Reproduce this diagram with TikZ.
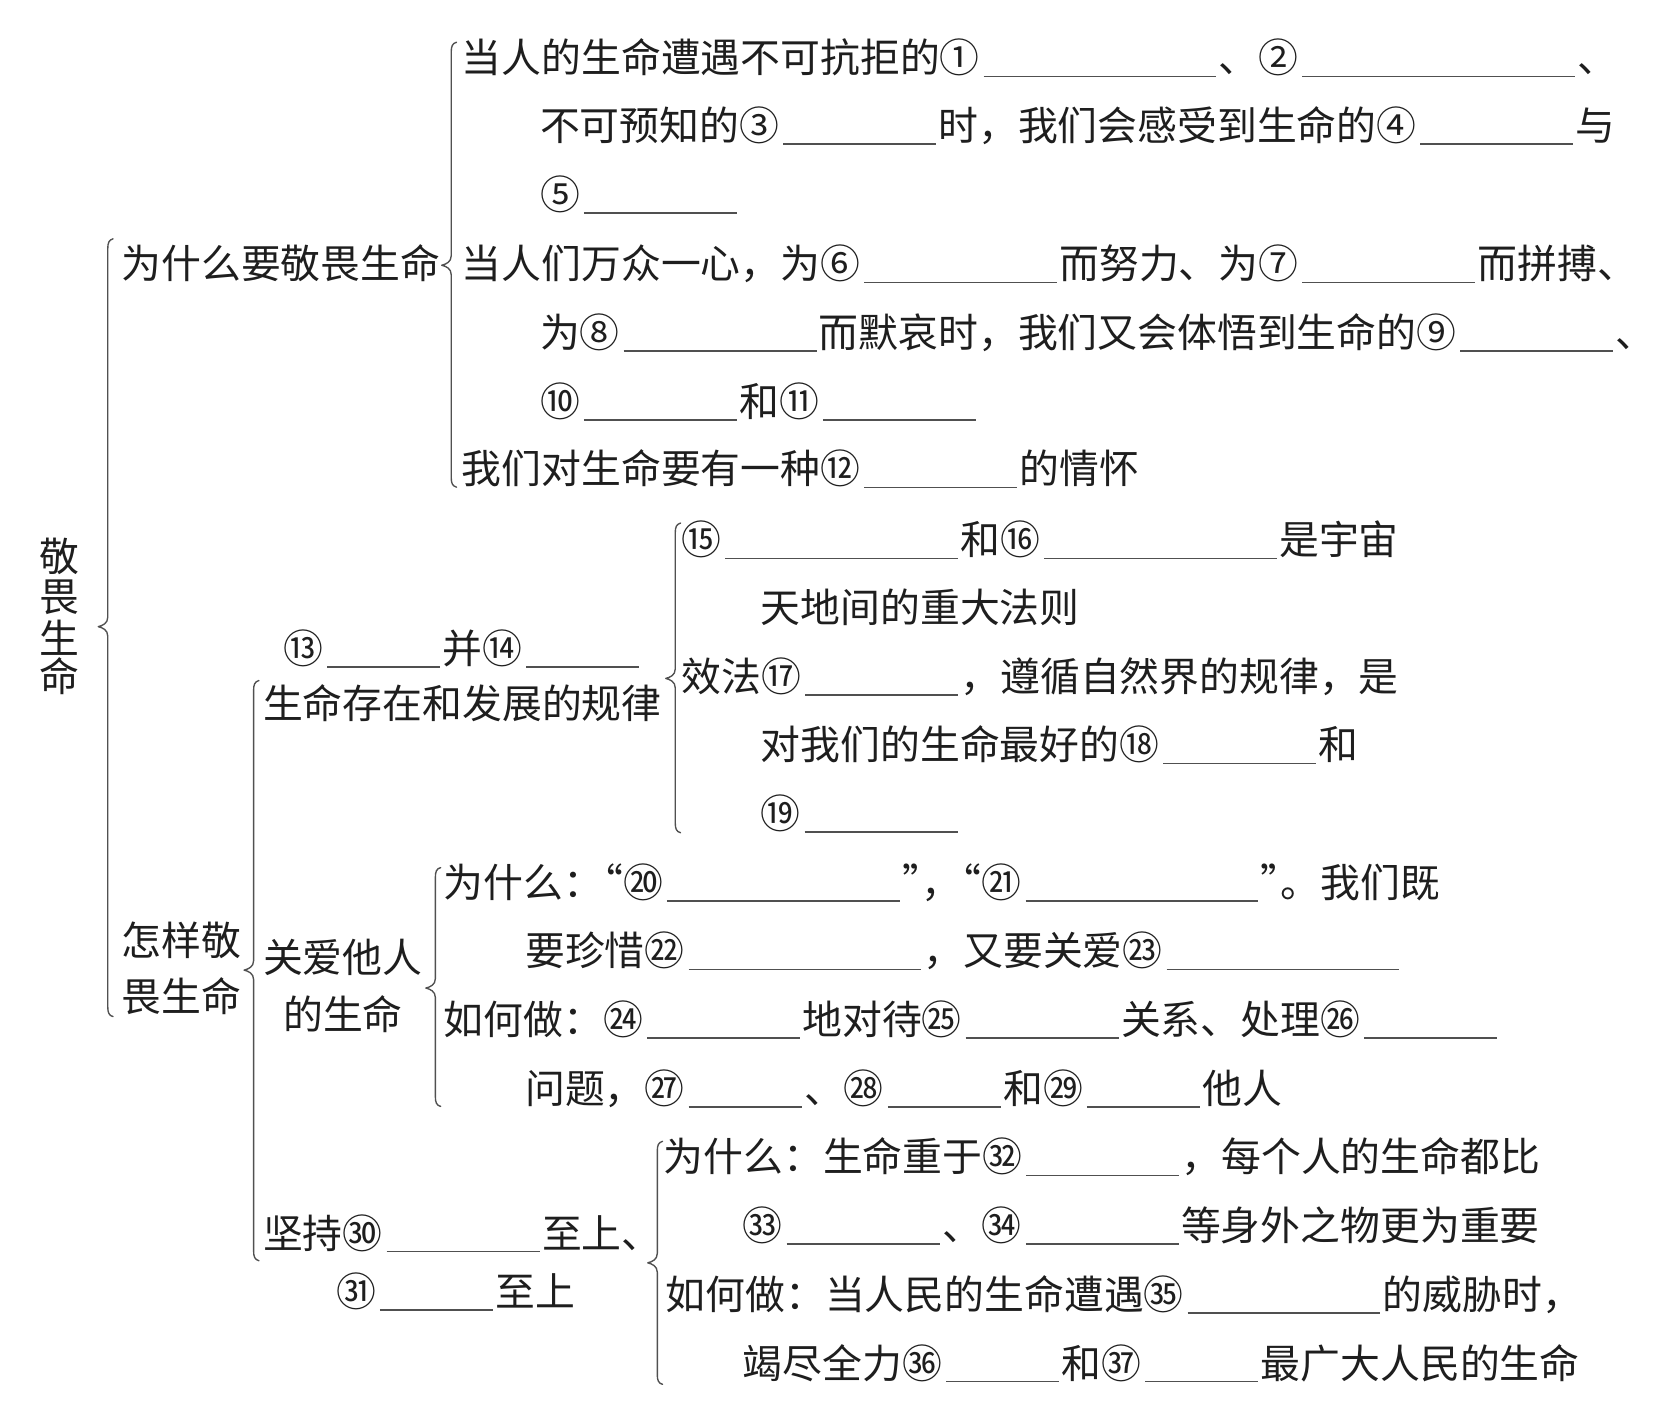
\documentclass[tikz,border=0pt]{standalone}
\usepackage{fontspec}
\setmainfont{Noto Sans CJK SC}
\definecolor{ink}{HTML}{1E1E1E}
\definecolor{brcol}{HTML}{505050}
\newcommand{\bl}[1]{\hspace{0.1em}{\color{brcol}\rule[-0.11em]{\dimexpr#1em-0.16em\relax}{0.75pt}}\hspace{0.06em}}
\newcommand{\oq}{\makebox[0.5em][r]{“}}
\newcommand{\cq}{\makebox[0.5em][l]{”}}
\newcommand{\brc}[4]{%
  \draw[brcline] ({#1+5},{-#2}) .. controls ({#1+1},{-#2-1}) and ({#1},{-#2-4}) .. ({#1},{-#2-9})
    -- ({#1},{-#3+9}) .. controls ({#1},{-#3+3}) and ({#1-5},{-#3+1}) .. ({#1-9},{-#3})
    .. controls ({#1-5},{-#3-1}) and ({#1},{-#3-3}) .. ({#1},{-#3-9})
    -- ({#1},{-#4+9}) .. controls ({#1},{-#4+4}) and ({#1+1},{-#4+1}) .. ({#1+5},{-#4});}
\tikzset{
  txt/.style={anchor=base west, inner sep=0pt, outer sep=0pt, text=ink,
    font=\fontsize{18.85}{22}\selectfont},
  vch/.style={txt, anchor=base},
  brcline/.style={draw=brcol, line width=0.65pt, line cap=round, line join=round}
}
\begin{document}
\begin{tikzpicture}[x=0.5pt,y=0.5pt]
\fill[white] (0,0) rectangle (1568,-1347);
\useasboundingbox (0,0) rectangle (1568,-1347);

% root
\node[vch] (r1) at (56,-541) {敬};
\node[vch] (r2) at (56,-579) {畏};
\node[vch] (r3) at (56,-618) {生};
\node[vch] (r4) at (56,-654) {命};
\brc{102}{226}{593}{962}

% why
\node[txt] (why) at (115,-264) {为什么要敬畏生命};
\brc{427}{40}{251}{461}
\node[txt] (a1) at (437,-69) {当人的生命遭遇不可抗拒的①\bl{6}、②\bl{7}、};
\node[txt] (a2) at (511,-133) {不可预知的③\bl{4}时，我们会感受到生命的④\bl{4}与};
\node[txt] (a3) at (511,-198) {⑤\bl{4}};
\node[txt] (a4) at (437,-264) {当人们万众一心，为⑥\bl{5}而努力、为⑦\bl{4.5}而拼搏、};
\node[txt] (a5) at (511,-329) {为⑧\bl{5}而默哀时，我们又会体悟到生命的⑨\bl{4}、};
\node[txt] (a6) at (511,-394) {⑩\bl{4}和⑪\bl{4}};
\node[txt] (a7) at (437,-458) {我们对生命要有一种⑫\bl{4}的情怀};

% how
\node[txt] (how1) at (115,-904) {怎样敬};
\node[txt] (how2) at (115,-957) {畏生命};
\brc{240}{644}{918}{1193}

% law
\node[txt] (law0) at (268,-628) {⑬\bl{3}并⑭\bl{3}};
\node[txt] (law) at (249,-680) {生命存在和发展的规律};
\brc{639}{495}{642}{788}
\node[txt] (b1) at (645,-525) {⑮\bl{6}和⑯\bl{6}是宇宙};
\node[txt] (b2) at (720,-589) {天地间的重大法则};
\node[txt] (b3) at (645,-654) {效法⑰\bl{4}，遵循自然界的规律，是};
\node[txt] (b4) at (720,-719) {对我们的生命最好的⑱\bl{4}和};
\node[txt] (b5) at (720,-784) {⑲\bl{4}};

% care
\node[txt] (care1) at (249,-920) {关爱他人};
\node[txt] (care2) at (268,-974) {的生命};
\brc{412}{821}{935}{1047}
\node[txt] (c1) at (420,-849) {为什么：\oq⑳\bl{6}\cq，\oq㉑\bl{6}\cq。我们既};
\node[txt] (c2) at (497,-914) {要珍惜㉒\bl{6}，又要关爱㉓\bl{6}};
\node[txt] (c3) at (420,-979) {如何做：㉔\bl{4}地对待㉕\bl{4}关系、处理㉖\bl{3.5}};
\node[txt] (c4) at (497,-1044) {问题，㉗\bl{3}、㉘\bl{3}和㉙\bl{3}他人};

% people
\node[txt] (pp1) at (249,-1181) {坚持㉚\bl{4}至上、};
\node[txt] (pp2) at (318,-1236) {㉛\bl{3}至上};
\brc{622}{1080}{1195}{1310}
\node[txt] (d1) at (628,-1109) {为什么：生命重于㉜\bl{4}，每个人的生命都比};
\node[txt] (d2) at (703,-1174) {㉝\bl{4}、㉞\bl{4}等身外之物更为重要};
\node[txt] (d3) at (630,-1239) {如何做：当人民的生命遭遇㉟\bl{5}的威胁时，};
\node[txt] (d4) at (703,-1304) {竭尽全力㊱\bl{3}和㊲\bl{3}最广大人民的生命};
\end{tikzpicture}
\end{document}
